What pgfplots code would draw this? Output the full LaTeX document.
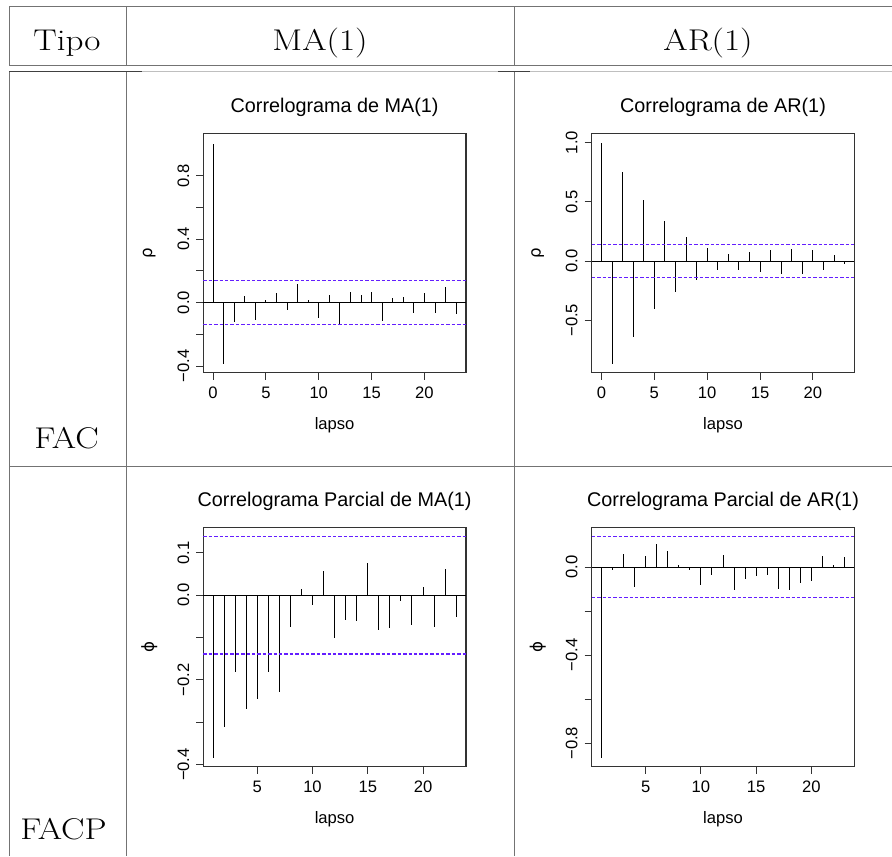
\documentclass[border=0pt]{standalone}
\usepackage{fontspec}
\usepackage{graphicx}
\usepackage{pgfplots}
\pgfplotsset{compat=1.18}
\newfontfamily\rfont{Liberation Sans}
\newfontfamily\gfont{DejaVu Sans}
\definecolor{rblue}{RGB}{100,30,255}
\definecolor{tline}{gray}{0.45}
\newcommand{\tabtext}[1]{\scalebox{1.17}[1]{#1}}
\pgfplotsset{
  rplot/.style={
    scale only axis, width=131.3pt, height=119.5pt,
    anchor=south west, clip=false,
    axis line style={line width=0.6pt, black!80},
    tick align=outside, tick pos=left,
    major tick length=3.5pt,
    tick style={black!80, line width=0.5pt},
    ticklabel style={font=\rfont\fontsize{8.3}{9}\selectfont},
    xticklabel style={anchor=north},
    yticklabel style={rotate=90, anchor=south},
    every axis title/.style={at={(rel axis cs:0.5,1)}, anchor=base, yshift=10.7pt, font=\rfont\fontsize{9.9}{11}\selectfont},
    every axis x label/.style={at={(rel axis cs:0.5,0)}, anchor=base, yshift=-28.3pt, font=\rfont\fontsize{8.3}{9}\selectfont},
    every axis y label/.style={at={(rel axis cs:0,0.5)}, xshift=-27pt, rotate=90, anchor=center, font=\gfont\fontsize{8.3}{9}\selectfont},
    xlabel={lapso},
  },
  spike/.style={ycomb, black, line width=0.5pt, mark=none},
  zero/.style={black, line width=0.5pt, mark=none},
  conf/.style={rblue, line width=0.8pt, mark=none, dash pattern=on 1.7pt off 1pt},
}
\begin{document}
\begin{tikzpicture}
\path[use as bounding box] (0pt,0pt) rectangle (446pt,-428pt);
% table rules
\begin{scope}[tline, line width=0.5pt]
\draw (4.5pt,-3.5pt) -- (446pt,-3.5pt);
\draw (4.5pt,-33pt) -- (446pt,-33pt);
\draw[black!25] (4.5pt,-35.8pt) -- (446pt,-35.8pt);
\draw (4.5pt,-233.35pt) -- (446pt,-233.35pt);
\draw (4.5pt,-3.5pt) -- (4.5pt,-33pt);
\draw (63pt,-3.5pt) -- (63pt,-33pt);
\draw (257pt,-3.5pt) -- (257pt,-33pt);
\draw (4.5pt,-35.8pt) -- (4.5pt,-428pt);
\draw (63pt,-35.8pt) -- (63pt,-428pt);
\draw (257pt,-35.8pt) -- (257pt,-428pt);
\draw[black!75] (4.5pt,-36pt) -- (71pt,-36pt);
\draw[black!75] (249pt,-36pt) -- (265pt,-36pt);
\end{scope}
\node[anchor=base, font=\fontsize{15}{18}\selectfont] at (33.5pt,-25.25pt) {\tabtext{Tipo}};
\node[anchor=base, font=\fontsize{15}{18}\selectfont] at (160pt,-25.25pt) {\tabtext{MA(1)}};
\node[anchor=base, font=\fontsize{15}{18}\selectfont] at (354pt,-25.25pt) {\tabtext{AR(1)}};
\node[anchor=base, font=\fontsize{15}{18}\selectfont] at (33.25pt,-224.15pt) {\tabtext{FAC}};
\node[anchor=base, font=\fontsize{15}{18}\selectfont] at (31.75pt,-419.65pt) {\tabtext{FACP}};

% MA(1) ACF
\begin{axis}[rplot, at={(101.65pt,-186.35pt)},
  xmin=-0.92, xmax=23.92, ymin=-0.442, ymax=1.066,
  xtick={0,5,10,15,20}, xticklabels={0,5,10,15,20},
  ytick={-0.4,-0.2,0,0.2,0.4,0.6,0.8}, yticklabels={−0.4,,0.0,,0.4,,0.8},
  title={Correlograma de MA(1)}, ylabel={ρ}]
\addplot[spike] coordinates {(0,1.0) (1,-0.388) (2,-0.12) (3,0.04) (4,-0.107) (5,0.019) (6,0.061) (7,-0.048) (8,0.115) (9,0.015) (10,-0.096) (11,0.05) (12,-0.132) (13,0.065) (14,0.046) (15,0.067) (16,-0.113) (17,0.027) (18,0.034) (19,-0.063) (20,0.063) (21,-0.067) (22,0.099) (23,-0.071)};
\addplot[zero] coordinates {(-0.92,0) (23.92,0)};
\addplot[conf] coordinates {(-0.92,0.1386) (23.92,0.1386)};
\addplot[conf] coordinates {(-0.92,-0.1386) (23.92,-0.1386)};
\end{axis}

% AR(1) ACF
\begin{axis}[rplot, at={(295.85pt,-186.35pt)},
  xmin=-0.92, xmax=23.92, ymin=-0.943, ymax=1.075,
  xtick={0,5,10,15,20}, xticklabels={0,5,10,15,20},
  ytick={-0.5,0,0.5,1.0}, yticklabels={−0.5,0.0,0.5,1.0},
  title={Correlograma de AR(1)}, ylabel={ρ}]
\addplot[spike] coordinates {(0,1.0) (1,-0.868) (2,0.75) (3,-0.638) (4,0.514) (5,-0.402) (6,0.334) (7,-0.258) (8,0.202) (9,-0.163) (10,0.107) (11,-0.076) (12,0.059) (13,-0.076) (14,0.073) (15,-0.09) (16,0.09) (17,-0.11) (18,0.098) (19,-0.107) (20,0.093) (21,-0.073) (22,0.05) (23,-0.022)};
\addplot[zero] coordinates {(-0.92,0) (23.92,0)};
\addplot[conf] coordinates {(-0.92,0.1386) (23.92,0.1386)};
\addplot[conf] coordinates {(-0.92,-0.1386) (23.92,-0.1386)};
\end{axis}

% MA(1) PACF
\begin{axis}[rplot, at={(101.65pt,-383.35pt)},
  xmin=0.12, xmax=23.88, ymin=-0.405, ymax=0.159,
  xtick={5,10,15,20}, xticklabels={5,10,15,20},
  ytick={-0.4,-0.3,-0.2,-0.1,0,0.1}, yticklabels={−0.4,,−0.2,,0.0,0.1},
  title={Correlograma Parcial de MA(1)}, ylabel={ϕ}]
\addplot[spike] coordinates {(1,-0.384) (2,-0.312) (3,-0.182) (4,-0.269) (5,-0.245) (6,-0.182) (7,-0.229) (8,-0.076) (9,0.015) (10,-0.023) (11,0.058) (12,-0.102) (13,-0.058) (14,-0.061) (15,0.076) (16,-0.083) (17,-0.078) (18,-0.013) (19,-0.071) (20,0.020) (21,-0.076) (22,0.061) (23,-0.052)};
\addplot[zero] coordinates {(0.12,0) (23.88,0)};
\addplot[conf] coordinates {(0.12,0.1386) (23.88,0.1386)};
\addplot[conf] coordinates {(0.12,-0.1386) (23.88,-0.1386)};
\end{axis}

% AR(1) PACF
\begin{axis}[rplot, at={(295.85pt,-383.35pt)},
  xmin=0.12, xmax=23.88, ymin=-0.907, ymax=0.179,
  xtick={5,10,15,20}, xticklabels={5,10,15,20},
  ytick={-0.8,-0.6,-0.4,-0.2,0}, yticklabels={−0.8,,−0.4,,0.0},
  title={Correlograma Parcial de AR(1)}, ylabel={ϕ}]
\addplot[spike] coordinates {(1,-0.867) (2,-0.014) (3,0.058) (4,-0.091) (5,0.05) (6,0.106) (7,0.073) (8,0.011) (9,-0.014) (10,-0.083) (11,-0.038) (12,0.053) (13,-0.103) (14,-0.053) (15,-0.041) (16,-0.036) (17,-0.098) (18,-0.106) (19,-0.073) (20,-0.062) (21,0.052) (22,0.008) (23,0.045)};
\addplot[zero] coordinates {(0.12,0) (23.88,0)};
\addplot[conf] coordinates {(0.12,0.1386) (23.88,0.1386)};
\addplot[conf] coordinates {(0.12,-0.1386) (23.88,-0.1386)};
\end{axis}
\end{tikzpicture}
\end{document}
